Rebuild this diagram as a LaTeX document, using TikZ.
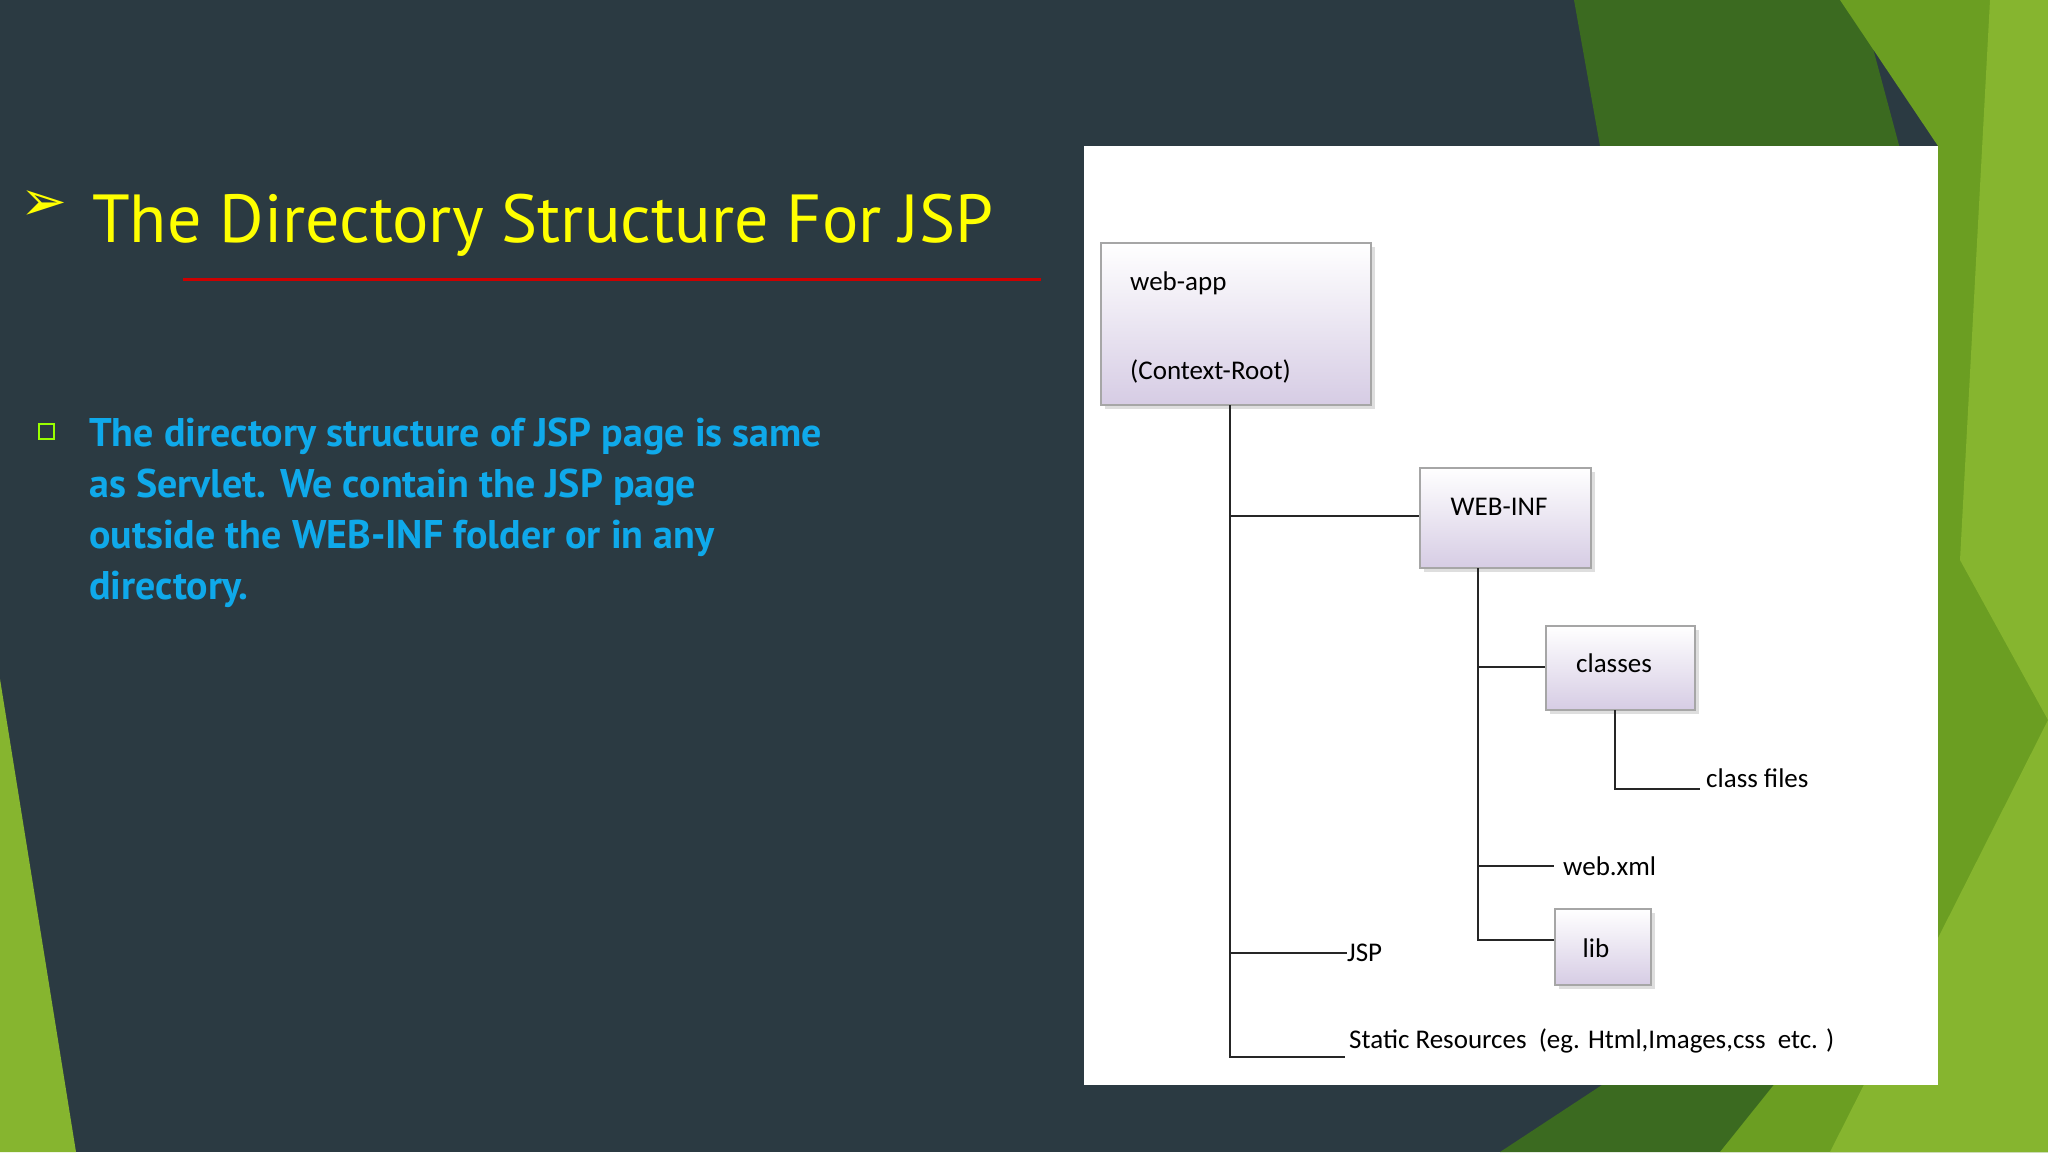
\documentclass[tikz,border=0pt]{standalone}
\usepackage{fontspec}
\setmainfont{PT Sans}
\newfontfamily\dej{DejaVu Sans}
\newfontfamily\dia{Carlito}
\definecolor{bg}{HTML}{2B3A42}
\definecolor{dg}{HTML}{3B6A20}
\definecolor{mg}{HTML}{6B9E22}
\definecolor{lg}{HTML}{86B52F}
\definecolor{lav}{HTML}{D6CCE4}
\definecolor{ttl}{HTML}{FFFF00}
\definecolor{blu}{HTML}{0FA9EA}
\tikzset{
  dirbox/.style={draw=gray!70, line width=2pt, top color=white, bottom color=lav,
    drop shadow={shadow xshift=4pt, shadow yshift=-4pt, fill=gray!50}},
  leaf/.style={font=\dia\fontsize{27}{30}\selectfont, inner sep=0pt, anchor=west, text=black},
  wire/.style={line width=2.5pt, black!85}
}
\usetikzlibrary{shadows}
\begin{document}
\begin{tikzpicture}[x=1pt,y=-1pt]
\useasboundingbox (0,0) rectangle (2048,1152);
\fill[bg] (0,0) rectangle (2048,1152);
% green decoration
\fill[dg] (1574,0) -- (1860,0) -- (2048,700) -- (2048,1152) -- (1500,1152) -- (1640,1060) -- (1600,146) -- cycle;
\fill[mg] (1840,0) -- (2048,0) -- (2048,1152) -- (1720,1152) -- (1938,880) -- (1938,146) -- cycle;
\fill[lg] (1990,0) -- (2048,0) -- (2048,1152) -- (1830,1152) -- (2048,720) -- (1960,560) -- cycle;
\fill[lg] (0,679) -- (76,1152) -- (0,1152) -- cycle;
% title
\node[anchor=west, text=ttl, inner sep=0pt, font=\dej\fontsize{56}{60}\selectfont] (arr) at (20,206) {➢};
\node[anchor=base west, text=ttl, inner sep=0pt, font=\fontsize{68}{72}\selectfont] (title) at (92,242) {The Directory Structure For JSP};
\draw[line width=3pt, red!80!black] (183,279) -- (1041,279);
% bullet
\node[draw=ttl!60!green, line width=2pt, fill=bg, minimum size=15pt, inner sep=0pt] (bul) at (46,431) {};
\node[anchor=north west, text=blu, inner sep=0pt, align=left, font=\bfseries\fontsize{40}{51}\selectfont] (body) at (89,418)
 {The directory structure of JSP page is same\\as Servlet. We contain the JSP page\\outside the WEB-INF folder or in any\\directory.};
% panel
\fill[white] (1084,146) rectangle (1938,1085);
% boxes
\node[dirbox, minimum width=270pt, minimum height=162pt, inner sep=0pt] (webapp) at (1236,324) {};
\node[leaf] (wa1) at (1130,283) {web-app};
\node[leaf] (wa2) at (1130,371) {(Context-Root)};
\node[dirbox, minimum width=171pt, minimum height=100pt, inner sep=0pt] (webinf) at (1505.5,518) {};
\node[leaf, anchor=center] (wi) at (1499,507) {WEB-INF};
\node[dirbox, minimum width=149pt, minimum height=84pt, inner sep=0pt] (classes) at (1620.5,668) {};
\node[leaf, anchor=center] (cl) at (1614,663) {classes};
\node[dirbox, minimum width=96pt, minimum height=76pt, inner sep=0pt] (lib) at (1603,947) {};
\node[leaf, anchor=center] (lb) at (1596,948) {lib};
\node[leaf] (cf) at (1706,778) {class files};
\node[leaf] (wx) at (1563,866) {web.xml};
\node[leaf] (jsp) at (1347,953) {JSP};
\node[leaf] (st) at (1349,1041) {Static Resources\ \ (eg. Html,Images,css\ \ etc. )};
% wires
\coordinate (m0) at (1230,405);
\coordinate (m1) at (1230,516);
\coordinate (m2) at (1230,953);
\coordinate (m3) at (1230,1057);
\draw[wire] (m0) -- (m3) -- (1345,1057);
\draw[wire] (m1) -- (webinf.west |- m1);
\draw[wire] (m2) -- (jsp.west);
\coordinate (w0) at (1478,568);
\coordinate (w1) at (1478,667);
\coordinate (w2) at (1478,866);
\coordinate (w3) at (1478,940);
\draw[wire] (w0) -- (w3) -- (lib.west |- w3);
\draw[wire] (w1) -- (classes.west |- w1);
\draw[wire] (w2) -- (1554,866);
\coordinate (c0) at (1615,710);
\coordinate (c1) at (1615,789);
\draw[wire] (c0) -- (c1) -- (1700,789);
\end{tikzpicture}
\end{document}
